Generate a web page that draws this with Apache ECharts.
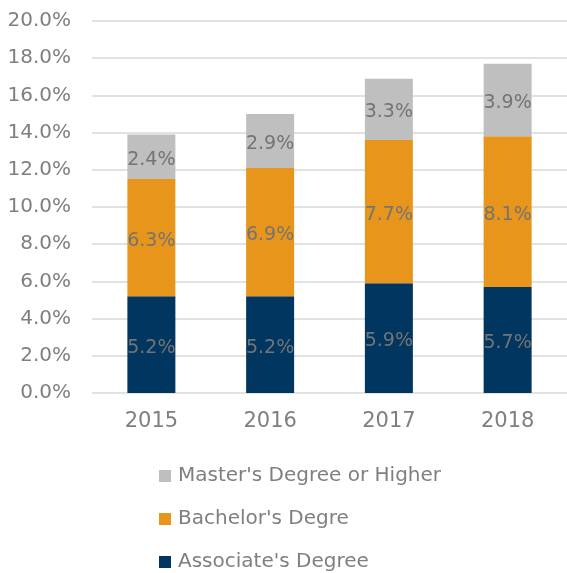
<!DOCTYPE html>
<html>
<head>
<meta charset="utf-8">
<script src="https://cdn.jsdelivr.net/npm/echarts@6/dist/echarts.min.js"></script>
<style>
  html, body { margin: 0; padding: 0; background: #fff; }
  #chart { width: 567px; height: 573px; }
</style>
</head>
<body>
<div id="chart"></div>
<script>
var years = ['2015', '2016', '2017', '2018'];
var associate = [5.2, 5.2, 5.9, 5.7];
var bachelor = [6.3, 6.9, 7.7, 8.1];
var master = [2.4, 2.9, 3.3, 3.9];
var yTicks = [0, 2, 4, 6, 8, 10, 12, 14, 16, 18, 20];

var txt = '#7f7f7f';
var font = 'DejaVu Sans';

var barLabel = {
    show: true,
    position: 'inside',
    offset: [0, 3],
    color: '#747474',
    fontSize: 19,
    fontFamily: font,
    formatter: function (p) { return p.value.toFixed(1) + '%'; }
};

var chart = echarts.init(document.getElementById('chart'));

var option = {
    animation: false,
    grid: { left: 92, top: 21, width: 480, height: 372, containLabel: false },
    legend: {
        orient: 'vertical',
        left: 159,
        top: 466,
        height: 140,
        padding: 0,
        itemWidth: 12,
        itemHeight: 12,
        itemGap: 23,
        icon: 'rect',
        data: ["Master's Degree or Higher", "Bachelor's Degre", "Associate's Degree"],
        textStyle: { color: txt, fontSize: 20, fontFamily: font, padding: [0, 0, 0, 2] }
    },
    xAxis: {
        type: 'category',
        data: years,
        axisLine: { show: false },
        axisTick: { show: false },
        axisLabel: { color: txt, fontSize: 21, fontFamily: font, margin: 18 }
    },
    yAxis: {
        type: 'value',
        min: yTicks[0],
        max: yTicks[yTicks.length - 1],
        interval: 2,
        axisLine: { show: false },
        axisTick: { show: false },
        splitLine: { lineStyle: { color: '#d9d9d9', width: 1.5 } },
        axisLabel: {
            color: txt, fontSize: 20, fontFamily: font, margin: 21,
            formatter: function (v) { return v.toFixed(1) + '%'; }
        }
    },
    series: [
        {
            name: "Associate's Degree", type: 'bar', stack: 'total', barWidth: 48,
            itemStyle: { color: '#003660' }, label: barLabel, data: associate
        },
        {
            name: "Bachelor's Degre", type: 'bar', stack: 'total', barWidth: 48,
            itemStyle: { color: '#e8951c' }, label: barLabel, data: bachelor
        },
        {
            name: "Master's Degree or Higher", type: 'bar', stack: 'total', barWidth: 48,
            itemStyle: { color: '#bfbfbf' }, label: barLabel, data: master
        }
    ]
};

chart.setOption(option);
</script>
</body>
</html>
